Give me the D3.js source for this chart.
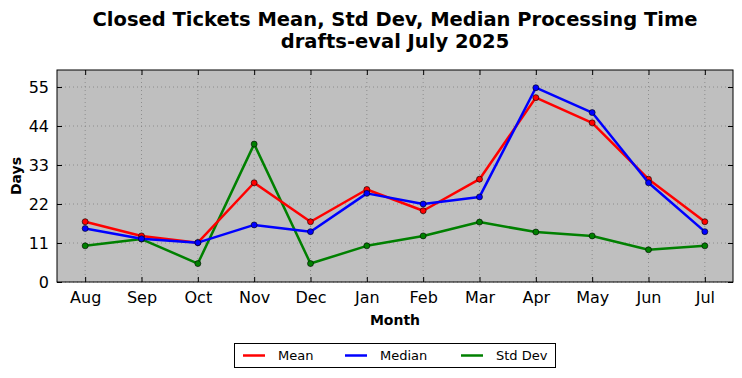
<!DOCTYPE html>
<html><head><meta charset="utf-8">
<script src="https://cdn.jsdelivr.net/npm/d3@7"></script>
<style>body{margin:0;background:#fff;} svg{display:block;font-family:"DejaVu Sans",sans-serif;}</style>
</head><body><svg id="c" width="742" height="378"></svg>
<script>
const months = ["Aug","Sep","Oct","Nov","Dec","Jan","Feb","Mar","Apr","May","Jun","Jul"];
const meanVals = [17, 13, 11.1, 28, 17, 26.1, 20.1, 29, 52, 44.9, 29, 17];
const medianVals = [15.1, 12.2, 11.1, 16.1, 14.2, 25, 22, 24, 54.8, 47.8, 28, 14.2];
const stdVals = [10.2, 12.1, 5.2, 38.9, 5.2, 10.2, 13, 16.9, 14.1, 13, 9.1, 10.2];
const yTicks = [0, 11, 22, 33, 44, 55];
const seriesNames = ["Mean","Median","Std Dev"];
const seriesColors = ["#ff0000","#0000ff","#008000"];

const svg = d3.select("#c");
const L=57, R=733, T=70, B=282;
const x = d3.scaleLinear().domain([-0.5, 11.5]).range([L, R]);
const y = d3.scaleLinear().domain([0, 59.8]).range([B, T]);

svg.append("rect").attr("x",L).attr("y",T).attr("width",R-L).attr("height",B-T).attr("fill","#bfbfbf");

// grid
const g = svg.append("g");
g.selectAll(".vg").data(months).enter().append("line")
  .attr("x1",(d,i)=>x(i)).attr("x2",(d,i)=>x(i)).attr("y1",T).attr("y2",B)
  .attr("stroke","#808080").attr("stroke-width",0.8).attr("stroke-dasharray","1,3");
g.selectAll(".hg").data(yTicks).enter().append("line")
  .attr("x1",L).attr("x2",R).attr("y1",d=>y(d)).attr("y2",d=>y(d))
  .attr("stroke","#808080").attr("stroke-width",0.8).attr("stroke-dasharray","1,3");

// axes (ticks inward)
const xAxis = d3.axisBottom(x).tickValues(d3.range(12)).tickFormat(i=>months[i]).tickSizeInner(-5).tickSizeOuter(0).tickPadding(10);
const yAxis = d3.axisLeft(y).tickValues(yTicks).tickSizeInner(-5).tickSizeOuter(0).tickPadding(8);
const xa = svg.append("g").attr("transform",`translate(0,${B})`).call(xAxis);
const ya = svg.append("g").attr("transform",`translate(${L},0)`).call(yAxis);
const xt = svg.append("g").attr("transform",`translate(0,${T})`).call(d3.axisTop(x).tickValues(d3.range(12)).tickFormat("").tickSizeInner(-5).tickSizeOuter(0));
const yr = svg.append("g").attr("transform",`translate(${R},0)`).call(d3.axisRight(y).tickValues(yTicks).tickFormat("").tickSizeInner(-5).tickSizeOuter(0));
[xa,ya,xt,yr].forEach(a=>{a.select(".domain").remove(); a.selectAll("text").attr("font-size",16).attr("fill","#000").attr("font-family","DejaVu Sans"); a.selectAll("line").attr("stroke","#000");});

const data = [meanVals, medianVals, stdVals];
const line = d3.line().x((d,i)=>x(i)).y(d=>y(d));
const order = [2,0,1];
order.forEach(k=>{
  svg.append("path").datum(data[k]).attr("d",line).attr("fill","none")
    .attr("stroke",seriesColors[k]).attr("stroke-width",2.5).attr("stroke-linejoin","round");
  svg.append("g").selectAll("circle").data(data[k]).enter().append("circle")
    .attr("cx",(d,i)=>x(i)).attr("cy",d=>y(d)).attr("r",3)
    .attr("fill",seriesColors[k]).attr("stroke","#000").attr("stroke-width",0.6);
});

svg.append("rect").attr("x",L).attr("y",T).attr("width",R-L).attr("height",B-T).attr("fill","none").attr("stroke","#000").attr("stroke-width",1);

// titles
const cx = (L+R)/2;
svg.append("text").attr("x",cx).attr("y",26).attr("text-anchor","middle").attr("font-size",19.5).attr("font-weight","bold").text("Closed Tickets Mean, Std Dev, Median Processing Time");
svg.append("text").attr("x",cx).attr("y",48).attr("text-anchor","middle").attr("font-size",19.5).attr("font-weight","bold").text("drafts-eval July 2025");
svg.append("text").attr("x",cx).attr("y",325).attr("text-anchor","middle").attr("font-size",14).attr("font-weight","bold").text("Month");
svg.append("text").attr("transform",`translate(21,${(T+B)/2}) rotate(-90)`).attr("text-anchor","middle").attr("font-size",14).attr("font-weight","bold").text("Days");

// legend
const lg = svg.append("g");
lg.append("rect").attr("x",234.5).attr("y",343.5).attr("width",321).attr("height",24).attr("fill","#fff").attr("stroke","#000").attr("stroke-width",1);
const lx = [243, 345, 461];
seriesNames.forEach((n,i)=>{
  lg.append("line").attr("x1",lx[i]).attr("x2",lx[i]+22).attr("y1",355.5).attr("y2",355.5).attr("stroke",seriesColors[i]).attr("stroke-width",2.5);
  lg.append("text").attr("x",lx[i]+35).attr("y",360).attr("font-size",13).text(n);
});
</script></body></html>
